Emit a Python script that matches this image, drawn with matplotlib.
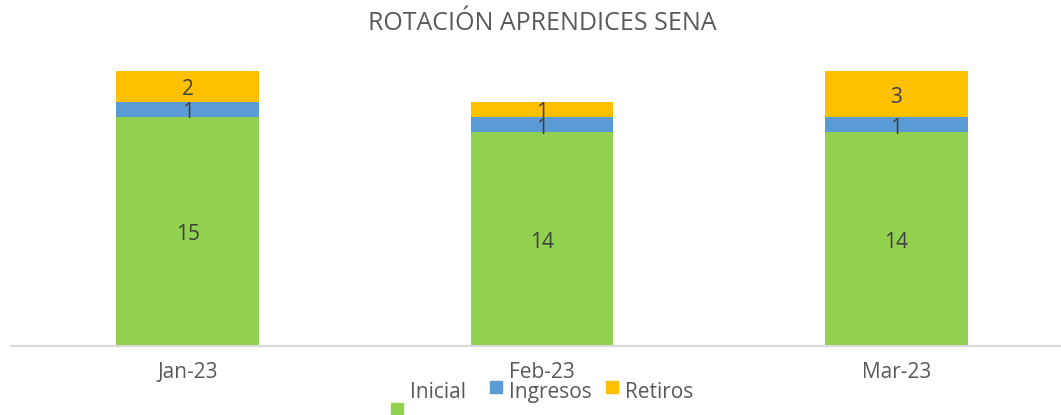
import matplotlib
matplotlib.use("Agg")
import matplotlib.pyplot as plt
from matplotlib.patches import Rectangle

categories = ["Jan-23", "Feb-23", "Mar-23"]
inicial = [15, 14, 14]
ingresos = [1, 1, 1]
retiros = [2, 1, 3]
series_names = ["Inicial", "Ingresos", "Retiros"]
colors = ["#92D050", "#5B9BD5", "#FFC000"]

W, H = 1061, 415
fig = plt.figure(figsize=(W / 100, H / 100), dpi=100)
plt.rcParams['font.family'] = ['Open Sans', 'DejaVu Sans']
txt = "#595959"

# axes: x from 10.5 px to 1073.5 px, bottom at 346, top at 56
ax = fig.add_axes([10.5 / W, (H - 346) / H, 1063 / W, 290 / H])
ax.set_xlim(-0.5, 2.5)
ax.set_ylim(0, 19)

x = list(range(len(categories)))
bw = 0.403
bottom = [0] * 3
for vals, col in zip([inicial, ingresos, retiros], colors):
    ax.bar(x, vals, bw, bottom=bottom, color=col, zorder=2)
    for xi, v, b in zip(x, vals, bottom):
        ax.annotate(str(v), (xi, b + v / 2), xytext=(0, -2.5), textcoords="offset points",
                    ha="center", va="center", fontsize=15, color="#404040", zorder=3)
    bottom = [b + v for b, v in zip(bottom, vals)]

for s in ["top", "right", "left"]:
    ax.spines[s].set_visible(False)
ax.spines["bottom"].set_color("#D9D9D9")
ax.spines["bottom"].set_linewidth(1.5)
ax.set_yticks([])
ax.set_xticks(x)
ax.set_xticklabels(categories, fontsize=15, color=txt)
ax.tick_params(axis="x", length=0, pad=11.5)

fig.text(542 / W, 1 - 24 / H, "ROTACIÓN APRENDICES SENA", ha="center", va="center",
         fontsize=18, color=txt)

# legend (manual, reproducing the odd layout)
leg = [
    (391, 403, 410, 392),  # square x, square y(top), text x, text y center
    (490, 381, 509, 392),
    (606, 381, 625, 392),
]
for (sx, sy, tx, ty), name, col in zip(leg, series_names, colors):
    fig.patches.append(Rectangle((sx / W, 1 - (sy + 12) / H), 12 / W, 12 / H,
                                 transform=fig.transFigure, color=col))
    fig.text(tx / W, 1 - ty / H, name, ha="left", va="center", fontsize=15, color=txt)

fig.savefig("out.png", dpi=100)
